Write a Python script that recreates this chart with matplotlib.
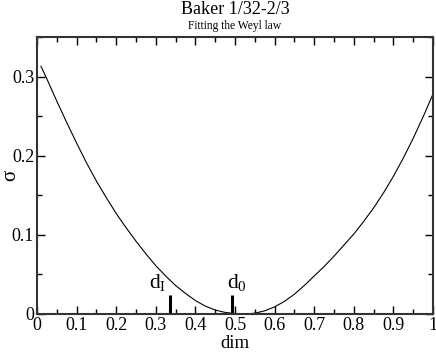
import numpy as np
import matplotlib
matplotlib.use("Agg")
import matplotlib.pyplot as plt
from matplotlib.ticker import MultipleLocator

plt.rcParams['font.family'] = ['Liberation Serif', 'DejaVu Serif']
plt.rcParams['mathtext.fontset'] = 'custom'
plt.rcParams['mathtext.rm'] = 'Liberation Serif'
plt.rcParams['mathtext.it'] = 'Liberation Serif:italic'

# curve
dim = [0.01, 0.025, 0.05, 0.075, 0.1, 0.125, 0.15, 0.175, 0.2, 0.225, 0.25,
       0.275, 0.3, 0.325, 0.35, 0.375, 0.4, 0.425, 0.45, 0.475, 0.5,
       0.525, 0.55, 0.575, 0.6, 0.625, 0.65, 0.675, 0.7, 0.725, 0.75,
       0.775, 0.8, 0.825, 0.85, 0.875, 0.9, 0.925, 0.95, 0.975, 1.0]
sigma = [0.313, 0.297, 0.269, 0.242, 0.216, 0.191, 0.168, 0.147, 0.127, 0.109, 0.092,
         0.076, 0.061, 0.048, 0.036, 0.026, 0.017, 0.010, 0.005, 0.002, 0.0005,
         0.0, 0.001, 0.004, 0.009, 0.016, 0.025, 0.036, 0.048, 0.060, 0.073,
         0.087, 0.101, 0.117, 0.134, 0.153, 0.174, 0.197, 0.222, 0.249, 0.278]

# marked dimensions
mark_names = [r'$\mathrm{d}_\mathrm{I}$', r'$\mathrm{d}_0$']
mark_x = [0.336, 0.493]
mark_h = 0.024

fig = plt.figure(figsize=(4.36, 3.54), dpi=100)
ax = fig.add_axes([37 / 436, 40 / 354, 396 / 436, 277 / 354])

ax.plot(dim, sigma, color='black', lw=0.8)
ax.vlines(mark_x, 0, mark_h, color='black', lw=2.2)
ax.text(mark_x[0] - 0.01, mark_h + 0.003, mark_names[0], ha='right', va='bottom', fontsize=15.5)
ax.text(mark_x[1] - 0.012, mark_h + 0.003, mark_names[1], ha='left', va='bottom', fontsize=15.5)

ax.set_xlim(0, 1)
ax.set_ylim(0, 0.35)
ax.xaxis.set_major_locator(MultipleLocator(0.1))
ax.xaxis.set_minor_locator(MultipleLocator(0.05))
ax.yaxis.set_major_locator(MultipleLocator(0.1))
ax.yaxis.set_minor_locator(MultipleLocator(0.05))
ax.xaxis.set_major_formatter(plt.FuncFormatter(lambda v, p: '%g' % round(v, 2)))
ax.yaxis.set_major_formatter(plt.FuncFormatter(lambda v, p: '%g' % round(v, 2)))
ax.tick_params(which='both', direction='in', top=True, right=True, labelsize=13, pad=2, width=1)
ax.tick_params(which='major', length=6)
ax.tick_params(which='minor', length=3.5)
for s in ax.spines.values():
    s.set_linewidth(1.5)
    s.set_color('#333333')

ax.set_xlabel('dim', fontsize=13.5, labelpad=1)
ax.set_ylabel('σ', fontsize=15)
ax.yaxis.set_label_coords(-17 / 396, 0.5)

fig.text(235 / 436, 1 - 10 / 354, 'Baker 1/32-2/3', ha='center', va='center', fontsize=13)
fig.text(235 / 436, 1 - 26 / 354, 'Fitting the Weyl law', ha='center', va='center', fontsize=8.3)

fig.savefig('out.png', dpi=100)
